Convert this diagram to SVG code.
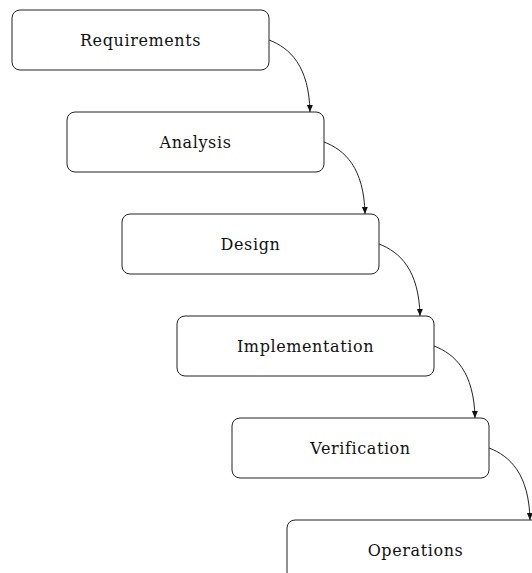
<svg xmlns="http://www.w3.org/2000/svg" width="532" height="573" viewBox="0 0 532 573">
  <style>
    .box { fill: #ffffff; stroke: #222222; stroke-width: 1; }
    .label { font-family: "DejaVu Serif", "Liberation Serif", serif; font-size: 16px; fill: #111111; text-anchor: middle; letter-spacing: 0.6px; }
    .link { fill: none; stroke: #222222; stroke-width: 1; marker-end: url(#tip); }
  </style>
  <defs>
    <marker id="tip" markerUnits="userSpaceOnUse" markerWidth="8" markerHeight="8" refX="7" refY="3" orient="auto">
      <path d="M0,0 L7,3 L0,6 z" fill="#111111"/>
    </marker>
  </defs>
  <rect width="532" height="573" fill="#ffffff"/>

  <g id="connectors">
    <path class="link" d="M269,40 C290,48 309,66 310,112"/>
    <path class="link" d="M324,142 C345,150 364,168 365,214"/>
    <path class="link" d="M379,244 C400,252 419,270 420,316"/>
    <path class="link" d="M434,346 C455,354 474,372 475,418"/>
    <path class="link" d="M489,448 C510,456 529,474 530,520"/>
  </g>

  <g id="requirements">
    <rect class="box" x="12" y="10" width="257" height="60" rx="8"/>
    <text class="label" x="140.5" y="46">Requirements</text>
  </g>
  <g id="analysis">
    <rect class="box" x="67" y="112" width="257" height="60" rx="8"/>
    <text class="label" x="195.5" y="148">Analysis</text>
  </g>
  <g id="design">
    <rect class="box" x="122" y="214" width="257" height="60" rx="8"/>
    <text class="label" x="250.5" y="250">Design</text>
  </g>
  <g id="implementation">
    <rect class="box" x="177" y="316" width="257" height="60" rx="8"/>
    <text class="label" x="305.5" y="352">Implementation</text>
  </g>
  <g id="verification">
    <rect class="box" x="232" y="418" width="257" height="60" rx="8"/>
    <text class="label" x="360.5" y="454">Verification</text>
  </g>
  <g id="operations">
    <rect class="box" x="287" y="520" width="257" height="60" rx="8"/>
    <text class="label" x="415.5" y="556">Operations</text>
  </g>
</svg>
